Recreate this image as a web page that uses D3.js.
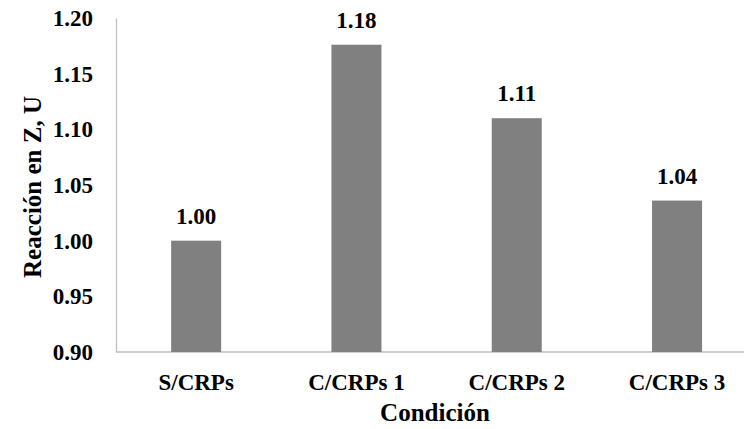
<!DOCTYPE html>
<html><head><meta charset="utf-8">
<script src="https://cdn.jsdelivr.net/npm/d3@7"></script>
<style>body{margin:0;background:#fff}svg{display:block}</style>
</head><body>
<svg id="c" width="744" height="429"></svg>
<script>
const categories = ["S/CRPs", "C/CRPs 1", "C/CRPs 2", "C/CRPs 3"];
const values = [1.00, 1.176, 1.110, 1.036];
const valueLabels = ["1.00", "1.18", "1.11", "1.04"];
const yTicks = [0.90, 0.95, 1.00, 1.05, 1.10, 1.15, 1.20];

const FONT = '"Liberation Serif"';
const svg = d3.select("#c");
const m = {left:116, right:744, top:18, bottom:352};
const x = d3.scaleBand().domain(categories).range([m.left, m.left + 4*160.3]).paddingInner(0.688).paddingOuter(0.344);
const y = d3.scaleLinear().domain([0.90, 1.20]).range([m.bottom, m.top]);

function styleText(sel, size) {
  sel.style("font-family", FONT).style("font-weight", "bold").style("font-size", size + "px").attr("fill", "#000");
}

// y axis
const ya = svg.append("g").attr("transform", `translate(${m.left},0)`)
  .call(d3.axisLeft(y).tickValues(yTicks).tickFormat(d3.format(".2f")).tickSize(0).tickPadding(23));
ya.attr("font-family", null).attr("font-size", null);
ya.select(".domain").attr("stroke", "#bfbfbf").attr("stroke-width", 1.3);
styleText(ya.selectAll("text"), 23);

// x axis
const xa = svg.append("g").attr("transform", `translate(0,${m.bottom})`)
  .call(d3.axisBottom(x).tickSize(0).tickPadding(22));
xa.attr("font-family", null).attr("font-size", null);
xa.select(".domain").attr("stroke", "#bfbfbf").attr("stroke-width", 1.3).attr("d", `M${m.left},0H${m.right}`);
styleText(xa.selectAll("text"), 23);

// bars
svg.append("g").selectAll("rect").data(values).join("rect")
  .attr("x", (d,i) => x(categories[i]))
  .attr("width", x.bandwidth())
  .attr("y", d => y(d))
  .attr("height", d => y(0.90) - y(d))
  .attr("fill", "#808080");

// value labels
const vl = svg.append("g").selectAll("text").data(values).join("text")
  .attr("x", (d,i) => x(categories[i]) + x.bandwidth()/2)
  .attr("y", d => y(d) - 17)
  .attr("text-anchor", "middle")
  .text((d,i) => valueLabels[i]);
styleText(vl, 23);

// axis titles
styleText(svg.append("text").attr("x", 435).attr("y", 421)
  .attr("text-anchor", "middle").text("Condición"), 25);
styleText(svg.append("text").attr("transform", `translate(41,187) rotate(-90)`)
  .attr("text-anchor", "middle").text("Reacción en Z, U"), 25);
</script>
</body></html>
